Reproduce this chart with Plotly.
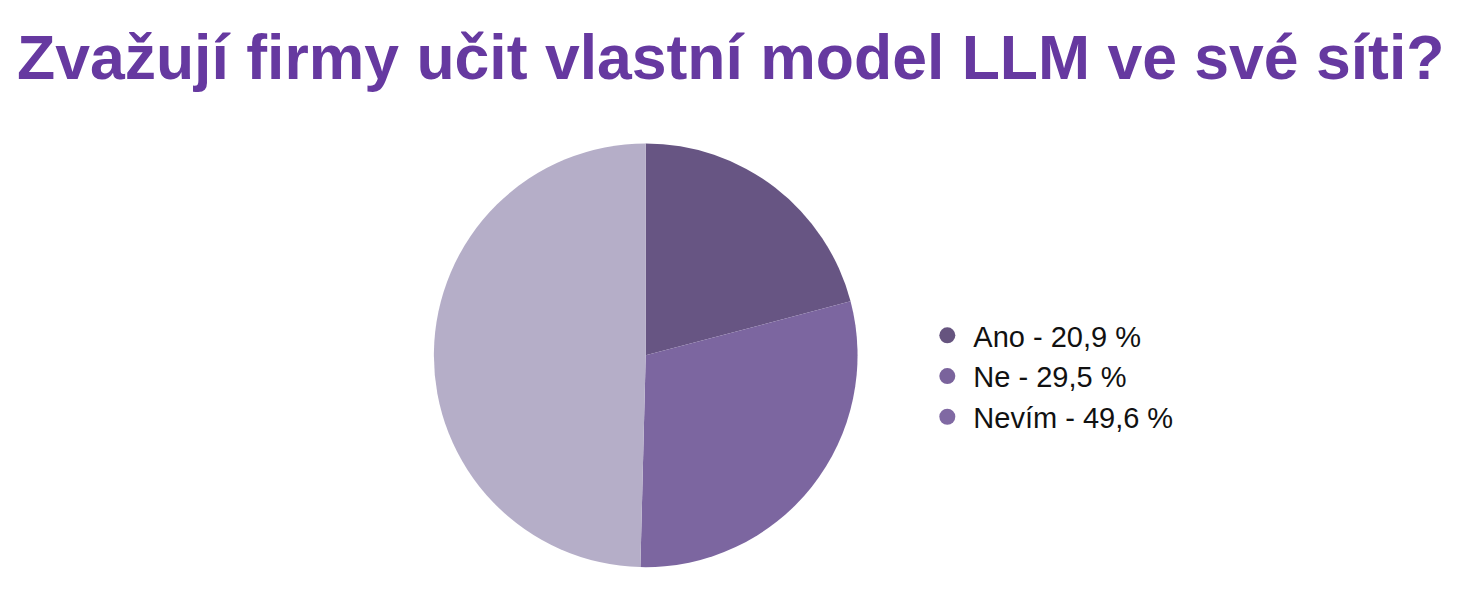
import plotly.graph_objects as go

labels = ["Ano", "Ne", "Nevím"]
values = [20.9, 29.5, 49.6]
slice_colors = ["#675583", "#7c66a0", "#b5aec8"]
legend_colors = ["#66547f", "#7a639c", "#8069a3"]

fig = go.Figure()

fig.add_trace(go.Pie(labels=labels, values=values, sort=False, direction="clockwise",
                     rotation=0, textinfo="none", hoverinfo="label+percent",
                     marker=dict(colors=slice_colors, line=dict(width=0)),
                     showlegend=False,
                     domain=dict(x=[0.2905, 0.5795], y=[0.074, 0.776])))

# legend entries (markers differ from slice colours in the original)
for lab, val, col in zip(labels, values, legend_colors):
    txt = f"{lab} - {str(val).replace('.', ',')} %"
    fig.add_trace(go.Scatter(x=[None], y=[None], mode="markers", name=txt,
                             marker=dict(color=col, size=22, symbol="circle")))

fig.update_layout(
    width=1466, height=604,
    paper_bgcolor="white", plot_bgcolor="white",
    margin=dict(l=0, r=0, t=0, b=0),
    title=dict(text="<b>Zvažují firmy učit vlastní model LLM ve své síti?</b>",
               x=0.493, xanchor="center", y=0.918, yanchor="middle",
               font=dict(family="Liberation Sans, Arial", size=62.5, color="#6639a0")),
    xaxis=dict(visible=False), yaxis=dict(visible=False),
    legend=dict(x=0.623, y=0.5, xanchor="left", yanchor="top",
                font=dict(family="Liberation Sans, Arial", size=29, color="#111111"),
                itemsizing="trace", itemwidth=42, tracegroupgap=0),
)

fig.write_html("out.html")
